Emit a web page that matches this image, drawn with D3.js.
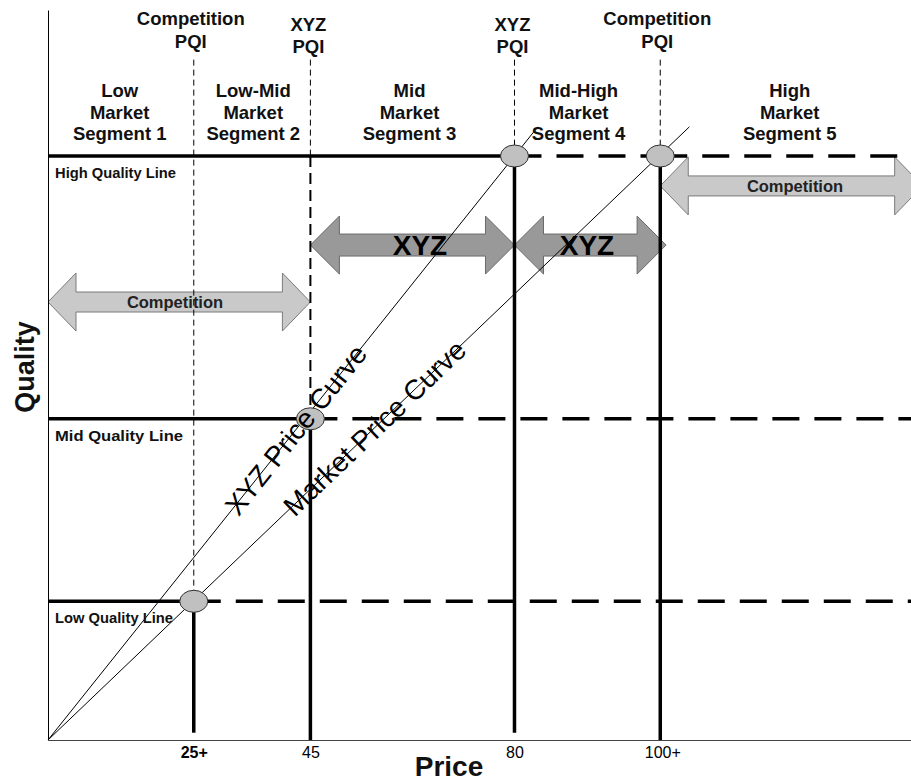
<!DOCTYPE html>
<html><head><meta charset="utf-8">
<script src="https://cdn.jsdelivr.net/npm/d3@7/dist/d3.min.js"></script>
<style>body{margin:0;background:#fff}svg{display:block}text{font-family:"Liberation Sans",Arial,sans-serif}</style>
</head><body>
<svg id="c" width="911" height="782"></svg>
<script>
// ---- data ----
const pricePoints = [25, 45, 80, 105];
const priceLabels = ["25+", "45", "80", "100+"];
const priceLabelBold = [true, false, false, false];
const qualityLevels = [19, 44, 80];
const qualityNames = ["Low Quality Line", "Mid Quality Line", "High Quality Line"];
const pqiLabels = [["Competition", "PQI"], ["XYZ", "PQI"], ["XYZ", "PQI"], ["Competition", "PQI"]];
const segmentNames = [["Low", "Market", "Segment 1"], ["Low-Mid", "Market", "Segment 2"], ["Mid", "Market", "Segment 3"], ["Mid-High", "Market", "Segment 4"], ["High", "Market", "Segment 5"]];
const segmentCenters = [12.3, 35.2, 62, 91, 127.2];
const xyzCurve = [[0, 0], [84, 84]];
const marketCurve = [[0, 0], [110, 84]];
const pqiPoints = [[25, 19], [45, 44], [80, 80], [105, 80]];
// stems: price, from quality, to quality
const stems = [[25, 1, 19], [45, 0, 44], [80, 1, 80], [105, 0, 80]];
// arrows: label, from price, to price, quality, kind
const arrows = [
  ["Competition", 0, 45, 60, "comp"],
  ["Competition", 105, 150, 75.9, "comp"],
  ["XYZ", 45, 80, 67.8, "xyz"],
  ["XYZ", 80, 106, 67.8, "xyz"]
];

// ---- scales ----
const svg = d3.select("#c");
const x = d3.scaleLinear().domain([0, 148]).range([48, 911]);
const y = d3.scaleLinear().domain([0, 100]).range([740, 10]);
const guideTop = 93.2;

// arrows
function arrowPath(x1, x2, cy, sh, hh, hl) {
  return `M${x1},${cy}L${x1+hl},${cy-hh}L${x1+hl},${cy-sh}L${x2-hl},${cy-sh}L${x2-hl},${cy-hh}L${x2},${cy}L${x2-hl},${cy+hh}L${x2-hl},${cy+sh}L${x1+hl},${cy+sh}L${x1+hl},${cy+hh}Z`;
}
const gA = svg.append("g");
arrows.forEach(a => {
  const comp = a[4] === "comp";
  gA.append("path")
    .attr("d", arrowPath(x(a[1]), x(a[2]), y(a[3]), comp ? 10 : 11, 29, comp ? 28 : 29))
    .attr("fill", comp ? "#c9c9c9" : "#999999")
    .attr("stroke", comp ? "#7a7a7a" : "#6a6a6a").attr("stroke-width", 1);
});

// axes
const xAxis = svg.append("g").attr("transform", `translate(0,${y(0)})`)
  .call(d3.axisBottom(x).tickValues(pricePoints).tickSize(0).tickFormat((d, i) => priceLabels[i]));
xAxis.select(".domain").attr("stroke", "#444").attr("stroke-width", 1.2);
xAxis.selectAll("text").attr("dy", 0).attr("y", 18).attr("font-size", 16).attr("fill", "#000")
  .attr("font-family", "'Liberation Sans',Arial,sans-serif")
  .attr("font-weight", (d, i) => priceLabelBold[i] ? "bold" : "normal")
  .attr("dx", (d, i) => i === 3 ? 2 : 0);
const yAxis = svg.append("g").attr("transform", `translate(${x(0)},0)`)
  .call(d3.axisLeft(y).tickValues([]).tickSize(0));
yAxis.select(".domain").attr("stroke", "#000").attr("stroke-width", 1);

// thin dashed guides
pricePoints.forEach((p, i) => {
  const lowEnd = i === 0 ? qualityLevels[0] : qualityLevels[2];
  svg.append("line").attr("x1", x(p)).attr("x2", x(p)).attr("y1", y(guideTop)).attr("y2", y(lowEnd))
    .attr("stroke", "#000").attr("stroke-width", 1).attr("stroke-dasharray", "6,4");
});
// medium dashed 45 line between mid and high
svg.append("line").attr("x1", x(45)).attr("x2", x(45)).attr("y1", y(qualityLevels[2])).attr("y2", y(qualityLevels[1]))
  .attr("stroke", "#000").attr("stroke-width", 2).attr("stroke-dasharray", "11,6");

// quality lines
const solidEnds = [25, 45, 80];
qualityLevels.forEach((q, i) => {
  svg.append("line").attr("x1", x(0)).attr("x2", x(solidEnds[i])).attr("y1", y(q)).attr("y2", y(q))
    .attr("stroke", "#000").attr("stroke-width", 3.5);
});
const dashedSegs = [[25, 148, 19], [45, 148, 44], [80, 105, 80], [105, 148, 80]];
dashedSegs.forEach(s => {
  svg.append("line").attr("x1", x(s[0])).attr("x2", x(s[1])).attr("y1", y(s[2])).attr("y2", y(s[2]))
    .attr("stroke", "#000").attr("stroke-width", 3.5).attr("stroke-dasharray", "27,15");
});

// stems
stems.forEach(s => {
  svg.append("line").attr("x1", x(s[0])).attr("x2", x(s[0])).attr("y1", y(s[1])).attr("y2", y(s[2]))
    .attr("stroke", "#000").attr("stroke-width", 3.5);
});

// curves
const line = d3.line().x(d => x(d[0])).y(d => y(d[1]));
[xyzCurve, marketCurve].forEach(c => {
  svg.append("path").attr("d", line(c)).attr("fill", "none").attr("stroke", "#000").attr("stroke-width", 1);
});

// pqi ellipses
svg.selectAll("ellipse.pqi").data(pqiPoints).join("ellipse")
  .attr("cx", d => x(d[0])).attr("cy", d => y(d[1])).attr("rx", 14).attr("ry", 11)
  .attr("fill", "#c0c0c0").attr("stroke", "#333").attr("stroke-width", 1);

// arrow labels
const arrowLabelX = [175, 795, 420, 587];
arrows.forEach((a, i) => {
  const comp = a[4] === "comp";
  svg.append("text").attr("x", arrowLabelX[i]).attr("y", y(a[3]))
    .attr("dy", comp ? "0.36em" : "0.37em")
    .attr("text-anchor", "middle").attr("font-weight", "bold")
    .attr("font-size", comp ? 16.5 : 28).attr("fill", comp ? "#222" : "#000").text(a[0]);
});

// quality line labels
const qFonts = [15.5, 15.5, 14.2];
const qLens = [118, 128, 121];
qualityLevels.forEach((q, i) => {
  svg.append("text").attr("x", 55).attr("y", y(q) + 22).attr("font-weight", "bold")
    .attr("font-size", qFonts[i]).attr("textLength", qLens[i]).attr("lengthAdjust", "spacingAndGlyphs")
    .attr("fill", "#111").text(qualityNames[i]);
});

// PQI labels
pqiLabels.forEach((lab, i) => {
  const comp = lab[0] === "Competition";
  const px = x(pricePoints[i]) + (comp ? -3 : -2);
  const t = svg.append("text").attr("text-anchor", "middle")
    .attr("font-weight", "bold").attr("font-size", 18.5).attr("fill", "#111");
  t.append("tspan").attr("x", px).attr("y", comp ? 25 : 31).text(lab[0]);
  t.append("tspan").attr("x", px).attr("y", comp ? 48 : 53).text(lab[1]);
});

// segment labels
segmentNames.forEach((lines, i) => {
  const t = svg.append("text").attr("text-anchor", "middle").attr("font-weight", "bold")
    .attr("font-size", 18.5).attr("fill", "#111");
  lines.forEach((s, j) => {
    t.append("tspan").attr("x", x(segmentCenters[i])).attr("y", 97 + j * 21.5).text(s);
  });
});

// curve labels
function curveLabel(curve, p, txt) {
  const [p0, p1] = curve;
  const slope = (p1[1] - p0[1]) / (p1[0] - p0[0]);
  const ang = Math.atan2(y(p1[1]) - y(p0[1]), x(p1[0]) - x(p0[0])) * 180 / Math.PI;
  const px = x(p), py = y(p * slope);
  svg.append("text").attr("transform", `translate(${px},${py}) rotate(${ang})`)
    .attr("text-anchor", "middle").attr("dy", "0.35em").attr("font-size", 28).attr("fill", "#000").text(txt);
}
curveLabel(xyzCurve, 42.5, "XYZ Price Curve");
curveLabel(marketCurve, 56, "Market Price Curve");

// axis titles
svg.append("text").attr("x", 449).attr("y", 776).attr("text-anchor", "middle").attr("font-weight", "bold")
  .attr("font-size", 28).attr("fill", "#111").text("Price");
svg.append("text").attr("transform", `translate(34,367) rotate(-90)`).attr("text-anchor", "middle")
  .attr("font-weight", "bold").attr("font-size", 27).attr("fill", "#111").text("Quality");
</script>
</body></html>
